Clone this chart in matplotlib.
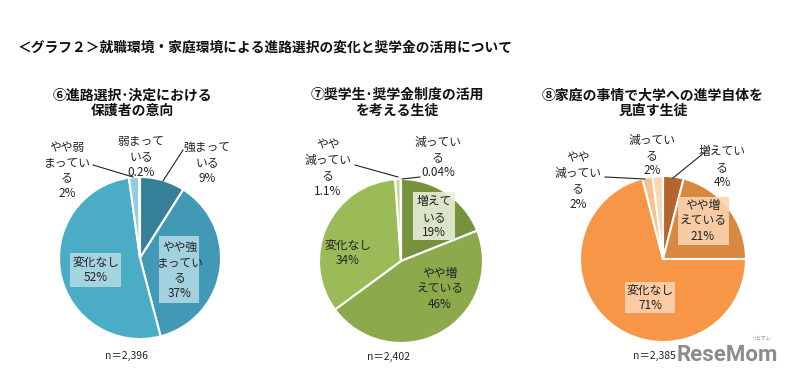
import matplotlib
matplotlib.use("Agg")
import matplotlib.pyplot as plt

plt.rcParams['font.family'] = ['Noto Sans CJK JP', 'DejaVu Sans']

W, H = 786, 382

# データ（グラフ⑥⑦⑧）
title_main = "＜グラフ２＞就職環境・家庭環境による進路選択の変化と奨学金の活用について"

titles = [
    "⑥進路選択･決定における\n保護者の意向",
    "⑦奨学生･奨学金制度の活用\nを考える生徒",
    "⑧家庭の事情で大学への進学自体を\n見直す生徒",
]
n_labels = ["n＝2,396", "n＝2,402", "n＝2,385"]

labels_6 = ["強まって\nいる", "やや強\nまってい\nる", "変化なし", "やや弱\nまってい\nる", "弱まって\nいる"]
values_6 = [9, 37, 52, 2, 0.2]

labels_7 = ["増えて\nいる", "やや増\nえている", "変化なし", "やや\n減ってい\nる", "減ってい\nる"]
values_7 = [19, 46, 34, 1.1, 0.04]

labels_8 = ["増えてい\nる", "やや増\nえている", "変化なし", "やや\n減ってい\nる", "減ってい\nる"]
values_8 = [4, 21, 71, 2, 2]

# 色
colors_6 = ["#357f97", "#4199b6", "#4bacc6", "#93cddd", "#b7dee8"]
colors_7 = ["#76923c", "#8caa4c", "#9bbb59", "#c3d69b", "#d7e4bd"]
colors_8 = ["#b5642c", "#d98840", "#f79646", "#fac090", "#fcd5b5"]
box_colors = ["#b0d8e4", "#e6eed8", "#fbd2b0"]

# レイアウト (ピクセル座標)
pies = [
    dict(cx=140, cy=258, r=81),
    dict(cx=401, cy=261, r=82),
    dict(cx=663, cy=259, r=83),
]
title_pos = [(132, 103), (397, 103), (653, 103)]
n_pos = [(148, 356), (410, 357), (676, 356)]

# ラベル位置 (x, 1行目y, 箱あり?) と 引出線
label_pos = [
    [(207, 147, False), (180, 247, True), (96, 262, False), (67, 147, False), (141, 141, False)],
    [(434, 202, True), (440, 273, False), (348, 245, False), (328, 145, False), (438, 142, False)],
    [(722, 152, False), (703, 205, True), (650, 290, True), (578, 158, False), (652, 140, False)],
]
boxes = [
    [(159, 236, 40, 67), (70, 253, 51, 34)],
    [(413, 192, 42, 48)],
    [(678, 197, 51, 48), (625, 282, 50, 31)],
]
leaders = [
    [((183, 150), (163, 181)), ((93, 165), (133, 177))],
    [((420, 177), (402, 179)), ((355, 165), (398, 177))],
    [((705, 152), (673, 178)), ((605, 177), (645, 179))],
]

all_labels = [labels_6, labels_7, labels_8]
all_values = [values_6, values_7, values_8]
all_colors = [colors_6, colors_7, colors_8]

fig = plt.figure(figsize=(W / 100, H / 100), dpi=100)
ax = fig.add_axes([0, 0, 1, 1])


def Y(y):
    return H - y


fig.text(18 / W, 1 - 48 / H, title_main, fontsize=9.9, fontweight='bold',
         va='center', ha='left', color='#111111')

LINE = 15.5
for i in range(3):
    p = pies[i]
    ax.pie(all_values[i], colors=all_colors[i], startangle=90, counterclock=False,
           center=(p['cx'], Y(p['cy'])), radius=p['r'], frame=True,
           wedgeprops=dict(edgecolor='white', linewidth=1.5))

    tx, ty = title_pos[i]
    ax.text(tx, Y(ty), titles[i], ha='center', va='center', fontsize=10,
            fontweight='bold', linespacing=1.15, color='#111111')

    for (bx, by, bw, bh) in boxes[i]:
        ax.add_patch(plt.Rectangle((bx, Y(by + bh)), bw, bh, facecolor=box_colors[i],
                                   edgecolor='none', alpha=0.9, zorder=3))

    for j, name in enumerate(all_labels[i]):
        lx, ly, _ = label_pos[i][j]
        lines = name.split("\n") + [f"{all_values[i][j]:g}%"]
        for k, s in enumerate(lines):
            ax.text(lx, Y(ly + k * LINE), s, ha='center', va='center',
                    fontsize=8.5, color='#222222', zorder=4)

    for (a, b) in leaders[i]:
        ax.plot([a[0], b[0]], [Y(a[1]), Y(b[1])], color='#222222', lw=0.8, zorder=4)

    nx, ny = n_pos[i]
    ax.text(nx, Y(ny), n_labels[i], ha='right', va='center', fontsize=7.5, color='#222222')

# 透かしロゴ
ax.text(677, Y(355), "ReseMom", ha='left', va='center', fontsize=16,
        fontweight='bold', color='#8c8c8c', family=['Roboto', 'DejaVu Sans'])
ax.text(762, Y(338), "リセマム", ha='center', va='center', fontsize=3.5, color='#8c8c8c')

ax.set_xlim(0, W)
ax.set_ylim(0, H)
ax.set_aspect('equal')
ax.axis('off')

fig.savefig("out.png", dpi=100, facecolor='white')
